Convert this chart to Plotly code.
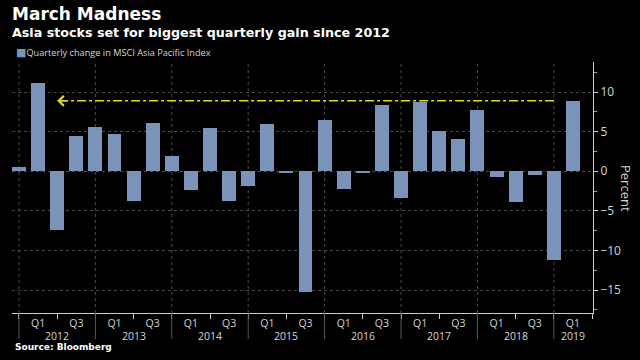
import plotly.graph_objects as go

# ---- data ----
quarters = ["Q4 2011",
            "Q1 2012", "Q2 2012", "Q3 2012", "Q4 2012",
            "Q1 2013", "Q2 2013", "Q3 2013", "Q4 2013",
            "Q1 2014", "Q2 2014", "Q3 2014", "Q4 2014",
            "Q1 2015", "Q2 2015", "Q3 2015", "Q4 2015",
            "Q1 2016", "Q2 2016", "Q3 2016", "Q4 2016",
            "Q1 2017", "Q2 2017", "Q3 2017", "Q4 2017",
            "Q1 2018", "Q2 2018", "Q3 2018", "Q4 2018",
            "Q1 2019"]
changes = [0.6,
           11.1, -7.4, 4.4, 5.6,
           4.7, -3.8, 6.1, 1.9,
           -2.4, 5.5, -3.8, -1.8,
           6.0, -0.1, -15.3, 6.5,
           -2.3, -0.1, 8.4, -3.4,
           8.8, 5.1, 4.1, 7.7,
           -0.7, -3.9, -0.5, -11.2,
           8.9]
series_name = "Quarterly change in MSCI Asia Pacific Index"
y_ticks = [-15, -10, -5, 0, 5, 10]
arrow_from = "Q4 2018"
arrow_to = "Q2 2012"

BAR = "#7b93b8"
GRID = "#4a4a4a"
TXT = "#d4d4d4"
YEL = "#e6d81c"

idx = list(range(len(quarters)))
q_of = [q.split()[0] for q in quarters]
yr_of = [q.split()[1] for q in quarters]

tick_idx = [i for i in idx if q_of[i] in ("Q1", "Q3")]
tick_txt = [q_of[i] for i in tick_idx]
year_end_idx = [i for i in idx if q_of[i] == "Q4"]

fig = go.Figure()
fig.add_trace(go.Bar(x=idx, y=changes, marker=dict(color=BAR, line=dict(width=0)),
                     width=0.73, name=series_name, showlegend=False))

# yellow dash-dot reference line (level of latest quarter)
level = changes[-1]
i_from = quarters.index(arrow_from)
i_to = quarters.index(arrow_to)
fig.add_trace(go.Scatter(x=[i_to + 0.1, i_from], y=[level, level], mode="lines",
                         line=dict(color=YEL, width=1.5, dash="dashdot"),
                         showlegend=False, hoverinfo="skip"))
fig.add_annotation(x=i_to, y=level, ax=i_to + 0.6, ay=level, xref="x", yref="y",
                   axref="x", ayref="y", showarrow=True, arrowhead=4, arrowsize=1.3,
                   arrowwidth=1.5, arrowcolor=YEL, text="")

# vertical dotted grid at year ends + separators below axis
for i in year_end_idx:
    fig.add_shape(type="line", xref="x", yref="paper", x0=i, x1=i, y0=0, y1=1,
                  line=dict(color=GRID, width=1, dash="dot"), layer="below")
    fig.add_shape(type="line", xref="x", yref="paper", x0=i, x1=i, y0=-0.104, y1=0,
                  line=dict(color="#555555", width=1))

# year labels centred in each year span
years = sorted(set(yr_of[1:]))
for y in years:
    members = [i for i in idx if yr_of[i] == y]
    xc = members[1] if len(members) == 4 else members[0]
    fig.add_annotation(x=xc, y=-0.09, xref="x", yref="paper", text=y, showarrow=False,
                       font=dict(family="Open Sans", size=10.5, color=TXT),
                       xanchor="center", yanchor="middle")

fig.update_xaxes(range=[-0.366, 30.05], tickmode="array", tickvals=tick_idx,
                 ticktext=tick_txt, ticks="", showgrid=False, zeroline=False,
                 showline=True, linecolor="#cccccc", linewidth=1,
                 tickfont=dict(family="Open Sans", size=10.5, color=TXT),
                 minor=dict(tick0=0, dtick=2, ticks="outside", ticklen=5,
                            tickcolor="#cccccc", showgrid=False))
fig.update_yaxes(range=[-17.9, 13.8], side="right", tickmode="array", tickvals=y_ticks,
                 ticks="outside", ticklen=4, tickcolor="#cccccc",
                 showline=True, linecolor="#cccccc", linewidth=1,
                 showgrid=True, gridcolor=GRID, griddash="dot", gridwidth=1,
                 zeroline=False,
                 tickfont=dict(family="Open Sans", size=12, color=TXT),
                 minor=dict(tick0=0, dtick=2.5, ticks="outside", ticklen=3,
                            tickcolor="#999999", showgrid=False))

fig.update_layout(
    width=640, height=360,
    margin=dict(l=12, r=47, t=62, b=47),
    paper_bgcolor="#000000", plot_bgcolor="#000000",
    bargap=0,
    showlegend=False,
)

def add_text(text, x_px, y_px, size, color, bold=False, family="DejaVu Sans", angle=0,
             anchor="left"):
    fig.add_annotation(xref="paper", yref="paper",
                       x=(x_px - 12) / 581, y=(313 - y_px) / 251,
                       xanchor=anchor, yanchor="middle", showarrow=False,
                       text=f"<b>{text}</b>" if bold else text, textangle=angle,
                       font=dict(family=family, size=size, color=color))

add_text("March Madness", 10, 14, 17, "#ffffff", bold=True)
add_text("Asia stocks set for biggest quarterly gain since 2012", 10, 32, 12.7, "#ffffff", bold=True)
add_text(f'<span style="color:{BAR};font-family:DejaVu Sans;font-size:11px">■</span>{series_name}',
         14, 52, 9.2, TXT, family="Open Sans")
add_text("Source: Bloomberg", 13, 347, 9, "#ffffff", bold=True)
add_text("Percent", 626, 188, 13, TXT, family="Open Sans", angle=90, anchor="center")

fig.write_html("out.html", config={"displayModeBar": False},
               post_script="document.body.style.margin='0';")
